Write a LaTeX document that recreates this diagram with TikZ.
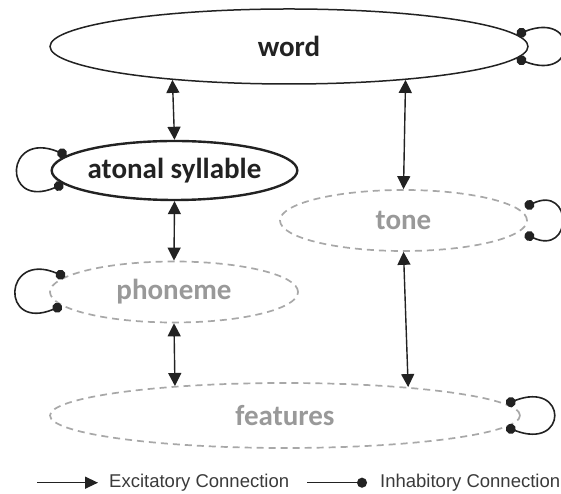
\documentclass[tikz,border=0pt]{standalone}
\usepackage{fontspec}
\setmainfont{Carlito}
\newfontfamily\legendfont{Liberation Sans}
\usetikzlibrary{shapes.geometric}
\usetikzlibrary{arrows.meta}

\definecolor{inkdark}{HTML}{222222}
\definecolor{layergray}{HTML}{A8A8A8}
\definecolor{labelgray}{HTML}{999999}
\definecolor{legendink}{HTML}{3A3A3A}

\tikzset{
  layer/.style={ellipse, draw=inkdark, line width=1.5pt, inner sep=0pt,
    font=\fontsize{29}{33}\selectfont\bfseries, text=inkdark},
  hidden layer/.style={layer, draw=layergray, line width=1.7pt, dash pattern=on 7pt off 5pt, text=labelgray},
  excite/.style={{Triangle[width=13pt,length=13pt]}-{Triangle[width=13pt,length=13pt]},
    line width=1.4pt, draw=inkdark},
  excite tip/.style={-{Triangle[width=12pt,length=13pt]}, line width=1.4pt, draw=inkdark},
  inhibit/.style={{Circle[length=10pt]}-{Circle[length=10pt]}, line width=1.6pt, draw=inkdark},
  inhibit tip/.style={-{Circle[length=10pt]}, line width=1.5pt, draw=inkdark},
  legend/.style={inner sep=0pt, anchor=west, text=legendink,
    font=\legendfont\fontsize{18.5}{22}\selectfont},
}

\begin{document}
\begin{tikzpicture}[x=1pt,y=1pt]
\useasboundingbox (0,0) rectangle (561,494);

% the layers
\node[layer, minimum width=478pt, minimum height=75pt] (word) at (289,447.5) {word};
\node[layer, line width=2.4pt, minimum width=245pt, minimum height=59pt] (syllable) at (174.5,323.5) {atonal syllable};
\node[hidden layer, minimum width=247pt, minimum height=61pt] (tone) at (403.5,273.5) {tone};
\node[hidden layer, minimum width=248pt, minimum height=61pt] (phoneme) at (174,202) {phoneme};
\node[hidden layer, minimum width=470pt, minimum height=65pt] (features) at (285,78.5) {features};

% excitatory links between layers
\draw[excite] (word.196) -- (syllable.north);
\draw[excite] (word.344) -- (tone.north);
\draw[excite] (syllable.south) -- (phoneme.north);
\draw[excite] (phoneme.south) -- (features.165.5);
\draw[excite] (tone.south) -- (features.13.4);

% inhibitory self loops
\draw[inhibit] (word.3.8) .. controls +(62,24) and +(62,-24) .. (word.-3.8);
\draw[inhibit] (syllable.172.6) .. controls +(-62,26) and +(-62,-26) .. (syllable.187.4);
\draw[inhibit] ([shift={(-3,13.5)}]tone.east) .. controls +(48,22) and +(48,-22) .. ([shift={(-3,-13.5)}]tone.east);
\draw[inhibit] (phoneme.172.6) .. controls +(-62,26) and +(-62,-26) .. (phoneme.187.4);
\draw[inhibit] (features.3.9) .. controls +(62,24) and +(62,-24) .. (features.-3.9);

% legend
\coordinate (exc start) at (37,11.3);
\coordinate (exc end) at (98,11.3);
\draw[excite tip] (exc start) -- (exc end);
\node[legend] (exc label) at (109,11.3) {Excitatory Connection};

\coordinate (inh start) at (307,11.3);
\coordinate (inh end) at (367,11.3);
\draw[inhibit tip] (inh start) -- (inh end);
\node[legend] (inh label) at (380,11.3) {Inhabitory Connection};

\end{tikzpicture}
\end{document}
